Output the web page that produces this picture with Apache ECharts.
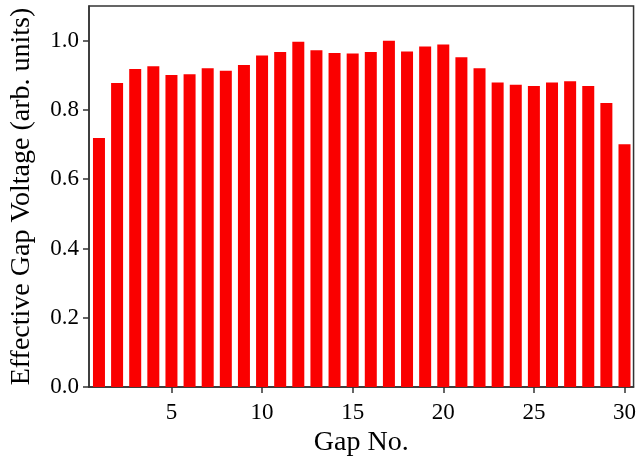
<!DOCTYPE html>
<html>
<head>
<meta charset="utf-8">
<script src="https://cdn.jsdelivr.net/npm/echarts@6/dist/echarts.min.js"></script>
<style>
  html, body { margin: 0; padding: 0; background: #fff; }
  #main { width: 639px; height: 462px; }
</style>
</head>
<body>
<div id="main"></div>
<script>
  // gap number and effective gap voltage
  var gapNo = [1, 2, 3, 4, 5, 6, 7, 8, 9, 10, 11, 12, 13, 14, 15,
               16, 17, 18, 19, 20, 21, 22, 23, 24, 25, 26, 27, 28, 29, 30];
  var voltage = [0.719, 0.878, 0.918, 0.926, 0.901, 0.903, 0.920, 0.913, 0.930, 0.957,
                 0.967, 0.997, 0.972, 0.964, 0.963, 0.967, 1.000, 0.969, 0.983, 0.989,
                 0.952, 0.920, 0.879, 0.873, 0.869, 0.879, 0.883, 0.869, 0.820, 0.701];
  var xTicks = [5, 10, 15, 20, 25, 30];
  var yTicks = [0, 0.2, 0.4, 0.6, 0.8, 1.0];

  var points = [];
  for (var i = 0; i < gapNo.length; i++) {
    points.push([gapNo[i], voltage[i]]);
  }

  var font = 'Liberation Serif';
  var axisColor = '#333';

  var myChart = echarts.init(document.getElementById('main'));
  var option = {
    animation: false,
    grid: {
      left: 89,
      right: 2,
      top: 6,
      bottom: 72,
      show: true,
      borderColor: axisColor,
      borderWidth: 1.5
    },
    xAxis: {
      type: 'value',
      min: 0.45,
      max: 30.5,
      name: 'Gap No.',
      nameLocation: 'middle',
      nameGap: 37,
      nameTextStyle: { fontFamily: font, fontSize: 28, color: '#000' },
      axisLine: { show: true, onZero: false, lineStyle: { color: axisColor, width: 1.5 } },
      axisTick: { show: true, length: 6, customValues: xTicks, lineStyle: { color: axisColor, width: 1.5 } },
      axisLabel: { customValues: xTicks, margin: 14, fontFamily: font, fontSize: 23, color: '#000' },
      splitLine: { show: false }
    },
    yAxis: {
      type: 'value',
      min: 0,
      max: 1.1,
      name: 'Effective Gap Voltage (arb. units)',
      nameLocation: 'middle',
      nameGap: 53,
      nameTextStyle: { fontFamily: font, fontSize: 28, color: '#000' },
      axisLine: { show: true, lineStyle: { color: axisColor, width: 1.5 } },
      axisTick: { show: true, length: 6, customValues: yTicks, lineStyle: { color: axisColor, width: 1.5 } },
      axisLabel: {
        customValues: yTicks,
        margin: 10,
        fontFamily: font,
        fontSize: 23,
        color: '#000',
        formatter: function (v) { return v.toFixed(1); }
      },
      splitLine: { show: false }
    },
    series: [{
      type: 'bar',
      data: points,
      barWidth: 12,
      itemStyle: { color: '#fa0000' }
    }]
  };
  myChart.setOption(option);
</script>
</body>
</html>
